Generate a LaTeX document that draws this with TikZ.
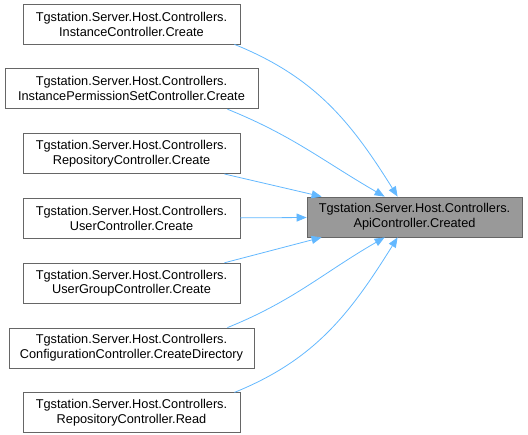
\documentclass[tikz,border=0pt]{standalone}
\usepackage{fontspec}
\setmainfont{Liberation Sans}
\usetikzlibrary{positioning,arrows.meta}
\definecolor{edgeblue}{HTML}{63B8FF}
\definecolor{boxgray}{HTML}{666666}
\definecolor{hlgray}{HTML}{999999}

\begin{document}
\begin{tikzpicture}[
  x=1bp, y=1bp,
  >={Triangle[length=10bp,width=8bp]},
  node distance=24bp,
  box/.style={
    rectangle, draw=boxgray, line width=0.8bp, align=center,
    inner sep=2bp, minimum height=40bp,
    font=\fontsize{12.8}{15}\selectfont
  },
  arrow/.style={->, draw=edgeblue, line width=0.8bp}
]
\useasboundingbox (0,0) rectangle (528,435);

\node (inst) [box, minimum width=217bp] at (131.5,411)
  {Tgstation.Server.Host.Controllers.\\InstanceController.Create};

\node (perm) [box, minimum width=253bp, below=of inst]
  {Tgstation.Server.Host.Controllers.\\InstancePermissionSetController.Create};

\node (repo) [box, minimum width=217bp, below=of perm]
  {Tgstation.Server.Host.Controllers.\\RepositoryController.Create};

\node (user) [box, minimum width=217bp, below=of repo]
  {Tgstation.Server.Host.Controllers.\\UserController.Create};

\node (group) [box, minimum width=217bp, below=of user]
  {Tgstation.Server.Host.Controllers.\\UserGroupController.Create};

\node (conf) [box, minimum width=245bp, below=of group]
  {Tgstation.Server.Host.Controllers.\\ConfigurationController.CreateDirectory};

\node (read) [box, minimum width=217bp, below=of conf]
  {Tgstation.Server.Host.Controllers.\\RepositoryController.Read};

\node (api) [box, fill=hlgray, minimum width=215bp] at (414.5,218)
  {Tgstation.Server.Host.Controllers.\\ApiController.Created};

\draw[arrow] ([xshift=-6bp]inst.south east) to[out=-22, in=122] ([xshift=91bp]api.north west);
\draw[arrow] ([xshift=-31bp]perm.south east) to[out=-22, in=150] ([xshift=78bp]api.north west);
\draw[arrow] ([xshift=-16bp]repo.south east) -- ([xshift=15bp]api.north west);
\draw[arrow] (user) -- (api);
\draw[arrow] ([xshift=-16bp]group.north east) -- ([xshift=15bp]api.south west);
\draw[arrow] ([xshift=-27bp]conf.north east) to[out=22, in=-150] ([xshift=78bp]api.south west);
\draw[arrow] ([xshift=-6bp]read.north east) to[out=22, in=-122] ([xshift=91bp]api.south west);
\end{tikzpicture}
\end{document}
